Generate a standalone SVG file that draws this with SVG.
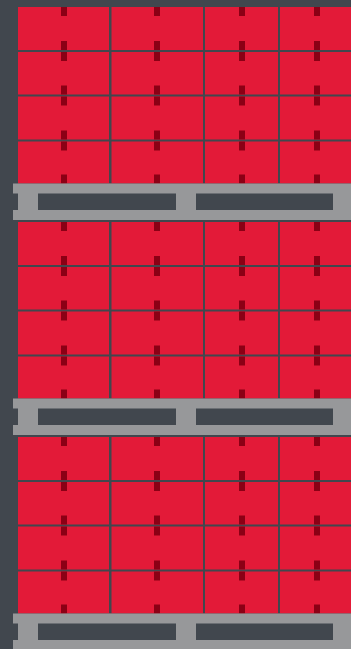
<svg xmlns="http://www.w3.org/2000/svg" xmlns:xlink="http://www.w3.org/1999/xlink" width="351" height="649" viewBox="0 0 351 649">
  <style>
    .bg { fill: #41474e; }
    .box { fill: #e31a38; }
    .line { fill: #41474e; }
    .mark { fill: #8b0015; }
    .pallet { fill: #97989a; }
    .slot { fill: #41474e; }
  </style>
  <defs>
    <g id="mk">
      <rect class="mark" x="61" y="0" width="6" height="9"/>
      <rect class="mark" x="154" y="0" width="6" height="9"/>
      <rect class="mark" x="239" y="0" width="6" height="9"/>
      <rect class="mark" x="314" y="0" width="6" height="9"/>
    </g>
    <g id="unit">
      <rect class="box" x="18" y="0" width="333" height="176.5"/>
      <rect class="line" x="18" y="43" width="333" height="2"/>
      <rect class="line" x="18" y="87.5" width="333" height="2"/>
      <rect class="line" x="18" y="132.5" width="333" height="2"/>
      <rect class="line" x="109" y="0" width="2.5" height="176.5"/>
      <rect class="line" x="203" y="0" width="2" height="176.5"/>
      <rect class="line" x="278" y="0" width="2" height="176.5"/>
      <use xlink:href="#mk" href="#mk" y="0"/>
      <use xlink:href="#mk" href="#mk" y="34"/>
      <use xlink:href="#mk" href="#mk" y="45"/>
      <use xlink:href="#mk" href="#mk" y="78.5"/>
      <use xlink:href="#mk" href="#mk" y="89.5"/>
      <use xlink:href="#mk" href="#mk" y="123.5"/>
      <use xlink:href="#mk" href="#mk" y="134.5"/>
      <use xlink:href="#mk" href="#mk" y="167.5"/>
      <rect class="pallet" x="13" y="176.5" width="338" height="36.5"/>
      <rect class="slot" x="13" y="186.5" width="5" height="16.5"/>
      <rect class="slot" x="38" y="186.5" width="138" height="16.5"/>
      <rect class="slot" x="196" y="186.5" width="137" height="16.5"/>
    </g>
  </defs>
  <rect class="bg" x="0" y="0" width="351" height="649"/>
  <g id="stack1"><use xlink:href="#unit" href="#unit" y="7"/></g>
  <g id="stack2"><use xlink:href="#unit" href="#unit" y="222"/></g>
  <g id="stack3"><use xlink:href="#unit" href="#unit" y="437"/></g>
</svg>
